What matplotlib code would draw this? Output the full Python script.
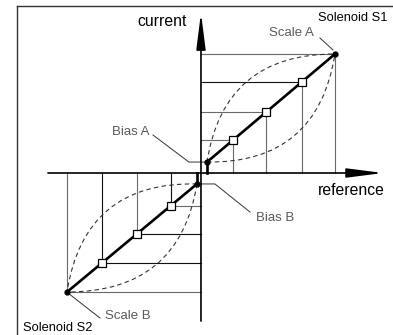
import matplotlib
matplotlib.use('Agg')
import matplotlib.pyplot as plt
from matplotlib.path import Path
from matplotlib.patches import PathPatch

plt.rcParams['font.family'] = ['Liberation Sans', 'DejaVu Sans']

# data in reference/current units (scale points at about +-1)
s1_bias = (0.045, 0.092)
s1_scale = (1.0, 1.0)
s1_mark_x = [0.239, 0.485, 0.754]
s1_mark_y = [0.276, 0.510, 0.766]
s1_ctrl_up = (0.17, 1.0)     # dashed curve control points
s1_ctrl_down = (0.87, 0.08)

s2_bias = (-0.03, -0.092)
s2_scale = (-1.0, -1.0)
s2_mark_x = [-0.739, -0.478, -0.224]
s2_mark_y = [-0.756, -0.511, -0.274]
s2_ctrl_up = (-0.87, -0.07)
s2_ctrl_down = (-0.16, -1.0)

GRAY = '#6a6a6a'
DARK = '#111111'
TGRAY = '#5a5a5a'

fig = plt.figure(figsize=(3.93, 3.35), dpi=100)
ax = fig.add_axes([17/393, 0, 376/393, 329/335])
ax.set_xlim(-1.373, 1.433)
ax.set_ylim(-1.361, 1.403)
ax.set_xticks([])
ax.set_yticks([])
for s in ['right', 'bottom']:
    ax.spines[s].set_visible(False)
for s in ['top', 'left']:
    ax.spines[s].set_linewidth(1.0)
    ax.spines[s].set_color('#333333')


def solenoid(bias, scale, mx, my, cu, cd, hcols, vcols):
    px = mx + [scale[0]]
    py = my + [scale[1]]
    # projection lines onto the axes
    for x, y, hc, vc in zip(px, py, hcols, vcols):
        ax.plot([0, x], [y, y], color=hc, lw=0.8, zorder=2)
        ax.plot([x, x], [0, y], color=vc, lw=0.8, zorder=2)
    # dashed envelopes
    for c in (cu, cd):
        p = Path([bias, c, scale], [Path.MOVETO, Path.CURVE3, Path.CURVE3])
        ax.add_patch(PathPatch(p, fill=False, ls=(0, (4, 3)), lw=0.8,
                               color='#333333', zorder=3))
    ax.plot([bias[0], scale[0]], [bias[1], scale[1]], color='black', lw=1.9, zorder=4)
    ax.plot([bias[0], bias[0]], [0, bias[1]], color='black', lw=1.9, zorder=4)
    ax.plot(mx, my, 's', ms=5.8, mfc='white', mec='black', mew=0.9, zorder=5, ls='none')
    ax.plot([bias[0], scale[0]], [bias[1], scale[1]], 'o', ms=3.5, color='black', zorder=6, ls='none')


solenoid(s1_bias, s1_scale, s1_mark_x, s1_mark_y, s1_ctrl_up, s1_ctrl_down,
         [GRAY, GRAY, DARK, GRAY], [GRAY, GRAY, GRAY, GRAY])
solenoid(s2_bias, s2_scale, s2_mark_x, s2_mark_y, s2_ctrl_up, s2_ctrl_down,
         [DARK, DARK, GRAY, GRAY], [DARK, GRAY, DARK, GRAY])

# axes with arrows
arr = dict(arrowstyle='-|>,head_length=2.2,head_width=0.28', lw=1.2, color='black',
           mutation_scale=10, shrinkA=0, shrinkB=0)
ax.annotate('', xy=(1.36, 0), xytext=(-1.142, 0), arrowprops=arr, zorder=7)
ax.annotate('', xy=(0, 1.345), xytext=(0, -1.244), arrowprops=arr, zorder=7)

# labels
ax.text(-0.104, 1.269, 'current', ha='right', va='center', fontsize=11.3, color='black')
ax.text(0.873, -0.143, 'reference', ha='left', va='center', fontsize=11.3, color='black')
ax.text(0.873, 1.303, 'Solenoid S1', ha='left', va='center', fontsize=9.3, color='black')
ax.text(-1.328, -1.303, 'Solenoid S2', ha='left', va='center', fontsize=9.3,
        color='black', clip_on=False)
ax.text(0.507, 1.176, 'Scale A', ha='left', va='center', fontsize=9.5, color=TGRAY)
ax.text(-0.716, -1.202, 'Scale B', ha='left', va='center', fontsize=9.5, color=TGRAY)
ax.text(-0.381, 0.345, 'Bias A', ha='right', va='center', fontsize=9.5, color=TGRAY)
ax.text(0.410, -0.378, 'Bias B', ha='left', va='center', fontsize=9.5, color=TGRAY)

# leader lines
ax.plot([0.888, 0.985], [1.134, 1.034], color='#333333', lw=0.7)
ax.plot([-0.993, -0.754], [-1.008, -1.218], color='#333333', lw=0.7)
ax.plot([-0.358, -0.090, 0.030], [0.319, 0.092, 0.092], color='#333333', lw=0.7)
ax.plot([-0.007, 0.104, 0.366], [-0.092, -0.092, -0.328], color='#333333', lw=0.7)

fig.savefig('out.png', dpi=100)
